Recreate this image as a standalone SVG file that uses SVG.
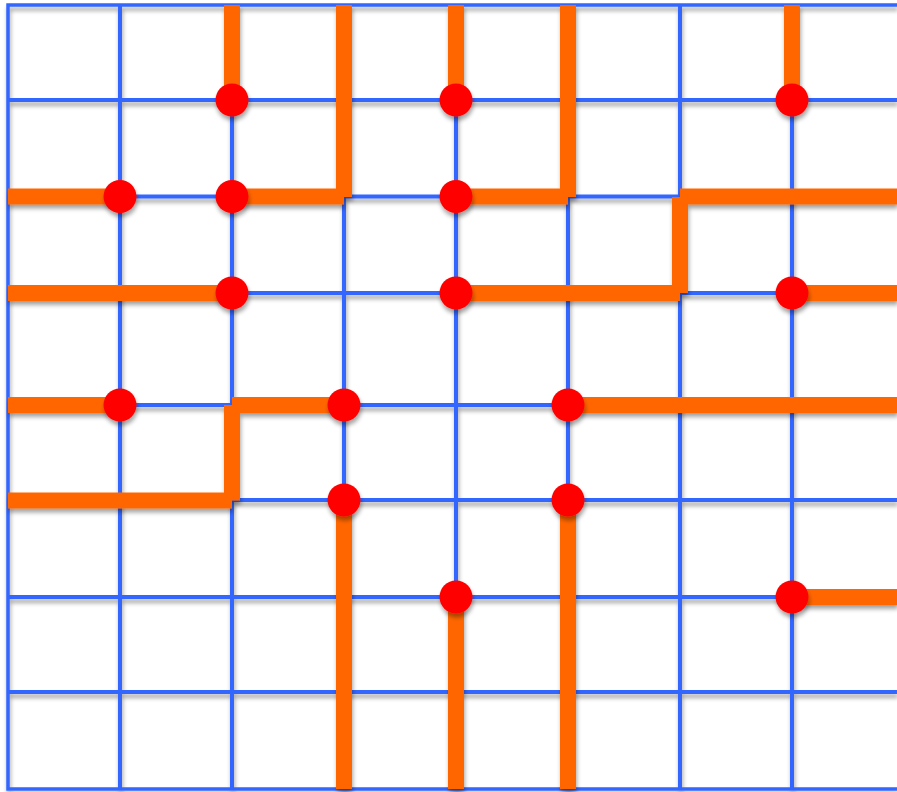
<svg xmlns="http://www.w3.org/2000/svg" width="897" height="792" viewBox="0 0 897 792">
  <defs>
    <filter id="sh" x="-20%" y="-20%" width="140%" height="140%">
      <feDropShadow dx="1" dy="4" stdDeviation="2" flood-color="#000" flood-opacity="0.35"/>
    </filter>
    <style>
      .g { stroke: #3366FF; stroke-width: 4; fill: none; }
      .o { stroke: #FF6600; stroke-width: 16; fill: none; stroke-linecap: butt; }
      .n { fill: #FF0000; }
    </style>
  </defs>
  <rect width="897" height="792" fill="#FFFFFF"/>
  <g id="grid" filter="url(#sh)">
    <path class="g" d="M8,100H897M8,196.5H897M8,293H897M8,405H897M8,500H897M8,597H897M8,692H897"/>
    <path class="g" d="M120,5V789M232,5V789M344,5V789M456,5V789M568,5V789M680,5V789M792,5V789"/>
    <path class="g" style="stroke-width:3.5" d="M897,5H8V789H897"/>
  </g>
  <g id="connectors" filter="url(#sh)">
    <path class="o" d="M232,5V100"/>
    <path class="o" d="M344,5V197"/>
    <path class="o" d="M232,196.5H344"/>
    <path class="o" d="M8,196.5H120"/>
    <path class="o" d="M456,5V100"/>
    <path class="o" d="M568,5V197"/>
    <path class="o" d="M456,196.5H568"/>
    <path class="o" d="M792,5V100"/>
    <path class="o" d="M680,196.5H897"/>
    <path class="o" d="M680,197V293"/>
    <path class="o" d="M456,293H680"/>
    <path class="o" d="M8,293H232"/>
    <path class="o" d="M792,293H897"/>
    <path class="o" d="M8,405H120"/>
    <path class="o" d="M232,405H344"/>
    <path class="o" d="M232,405V500.5"/>
    <path class="o" d="M8,500.5H232"/>
    <path class="o" d="M568,405H897"/>
    <path class="o" d="M344,500V789"/>
    <path class="o" d="M568,500V789"/>
    <path class="o" d="M456,597V789"/>
    <path class="o" d="M792,597H897"/>
  </g>
  <g id="nodes" filter="url(#sh)">
    <circle id="n1" class="n" cx="232" cy="100" r="16.5"/>
    <circle id="n2" class="n" cx="456" cy="100" r="16.5"/>
    <circle id="n3" class="n" cx="792" cy="100" r="16.5"/>
    <circle id="n4" class="n" cx="120" cy="196.5" r="16.5"/>
    <circle id="n5" class="n" cx="232" cy="196.5" r="16.5"/>
    <circle id="n6" class="n" cx="456" cy="196.5" r="16.5"/>
    <circle id="n7" class="n" cx="232" cy="293" r="16.5"/>
    <circle id="n8" class="n" cx="456" cy="293" r="16.5"/>
    <circle id="n9" class="n" cx="792" cy="293" r="16.5"/>
    <circle id="n10" class="n" cx="120" cy="405" r="16.5"/>
    <circle id="n11" class="n" cx="344" cy="405" r="16.5"/>
    <circle id="n12" class="n" cx="568" cy="405" r="16.5"/>
    <circle id="n13" class="n" cx="344" cy="500" r="16.5"/>
    <circle id="n14" class="n" cx="568" cy="500" r="16.5"/>
    <circle id="n15" class="n" cx="456" cy="597" r="16.5"/>
    <circle id="n16" class="n" cx="792" cy="597" r="16.5"/>
  </g>
</svg>
